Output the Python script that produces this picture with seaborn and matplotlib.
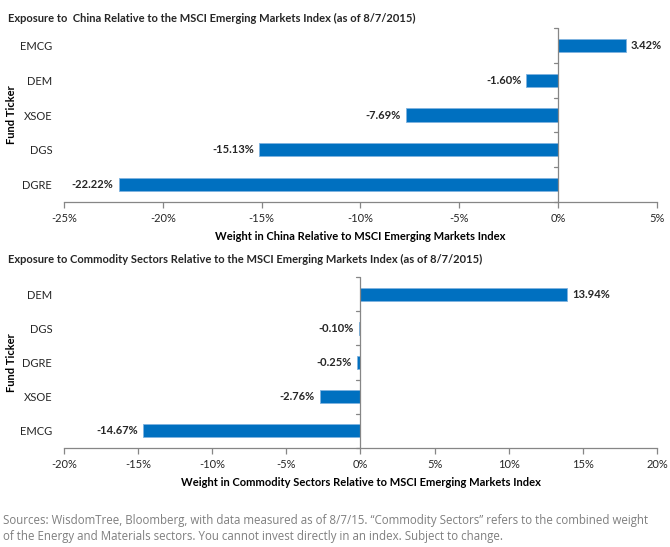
import matplotlib
matplotlib.use('Agg')
import matplotlib.pyplot as plt
import seaborn as sns
import pandas as pd
from matplotlib.ticker import FuncFormatter

# China exposure relative to MSCI EM index (%)
china_tickers = ['EMCG', 'DEM', 'XSOE', 'DGS', 'DGRE']
china_values = [3.42, -1.60, -7.69, -15.13, -22.22]

# Commodity sectors exposure relative to MSCI EM index (%)
comm_tickers = ['DEM', 'DGS', 'DGRE', 'XSOE', 'EMCG']
comm_values = [13.94, -0.10, -0.25, -2.76, -14.67]

china_title = 'Exposure to  China Relative to the MSCI Emerging Markets Index (as of 8/7/2015)'
china_xlabel = 'Weight in China Relative to MSCI Emerging Markets Index'
comm_title = 'Exposure to Commodity Sectors Relative to the MSCI Emerging Markets Index (as of 8/7/2015)'
comm_xlabel = 'Weight in Commodity Sectors Relative to MSCI Emerging Markets Index'
footnote = ('Sources: WisdomTree, Bloomberg, with data measured as of 8/7/15. \u201cCommodity Sectors\u201d refers to the combined weight\n'
            'of the Energy and Materials sectors. You cannot invest directly in an index. Subject to change.')

sns.set_style('white')
plt.rcParams['font.family'] = ['Lato', 'DejaVu Sans']

BAR = '#0070C0'
AXIS = '#868686'
TXT = '#262626'
FS = 8.0

fig = plt.figure(figsize=(6.7, 5.47), dpi=100)
ax1 = fig.add_axes([0.0955, 0.6307, 0.885, 0.318])
ax2 = fig.add_axes([0.0955, 0.181, 0.885, 0.3126])


def draw(ax, tickers, values, xlim, step, xlabel):
    df = pd.DataFrame({'ticker': tickers, 'value': values})
    sns.barplot(data=df, x='value', y='ticker', orient='h', color=BAR,
                width=0.38, saturation=1, edgecolor='#7fb3e0', linewidth=0.6, ax=ax)
    ax.set_xlim(*xlim)
    ax.set_ylim(len(tickers) - 0.5, -0.5)
    ax.set_xticks(range(xlim[0], xlim[1] + 1, step))
    ax.xaxis.set_major_formatter(FuncFormatter(lambda v, p: f'{int(v)}%'))
    for s in ['top', 'right', 'left']:
        ax.spines[s].set_visible(False)
    ax.spines['bottom'].set_color(AXIS)
    ax.spines['bottom'].set_linewidth(0.9)
    ax.axvline(0, color=AXIS, lw=0.9, zorder=3)
    ax.set_yticks(range(len(tickers)))
    ax.set_yticklabels(tickers, fontsize=FS, color=TXT)
    ax.tick_params(axis='y', length=0, pad=8.5)
    ax.tick_params(axis='x', direction='out', length=4, width=0.9, color=AXIS,
                   labelsize=FS, labelcolor=TXT, pad=4, bottom=True)
    ax.set_xlabel(xlabel, fontsize=FS, fontweight='bold', labelpad=5, color='black')
    ax.set_ylabel('Fund Ticker', fontsize=FS, fontweight='bold', color='black')
    ax.yaxis.set_label_coords(-0.08, 0.5)
    span = xlim[1] - xlim[0]
    off = span * 0.009
    for i, v in enumerate(values):
        ax.text(v + off if v >= 0 else v - off, i, f'{v:.2f}%', va='center',
                ha='left' if v >= 0 else 'right', fontsize=FS, fontweight='bold', color=TXT)
    # small tick marks at category boundaries on the zero line
    for b in range(len(tickers) + 1):
        ax.plot([0, -span * 0.007], [b - 0.5, b - 0.5], color=AXIS, lw=0.9, clip_on=False)


draw(ax1, china_tickers, china_values, (-25, 5), 5, china_xlabel)
draw(ax2, comm_tickers, comm_values, (-20, 20), 5, comm_xlabel)

fig.text(0.012, 0.967, china_title, fontsize=FS, fontweight='bold', va='center')
fig.text(0.012, 0.525, comm_title, fontsize=FS, fontweight='bold', va='center')
fig.text(0.004, 0.008, footnote, fontsize=8.3, color='#7f7f7f', va='bottom',
         family=['Open Sans', 'DejaVu Sans'], linespacing=1.3)

fig.savefig('out.png', dpi=100)
